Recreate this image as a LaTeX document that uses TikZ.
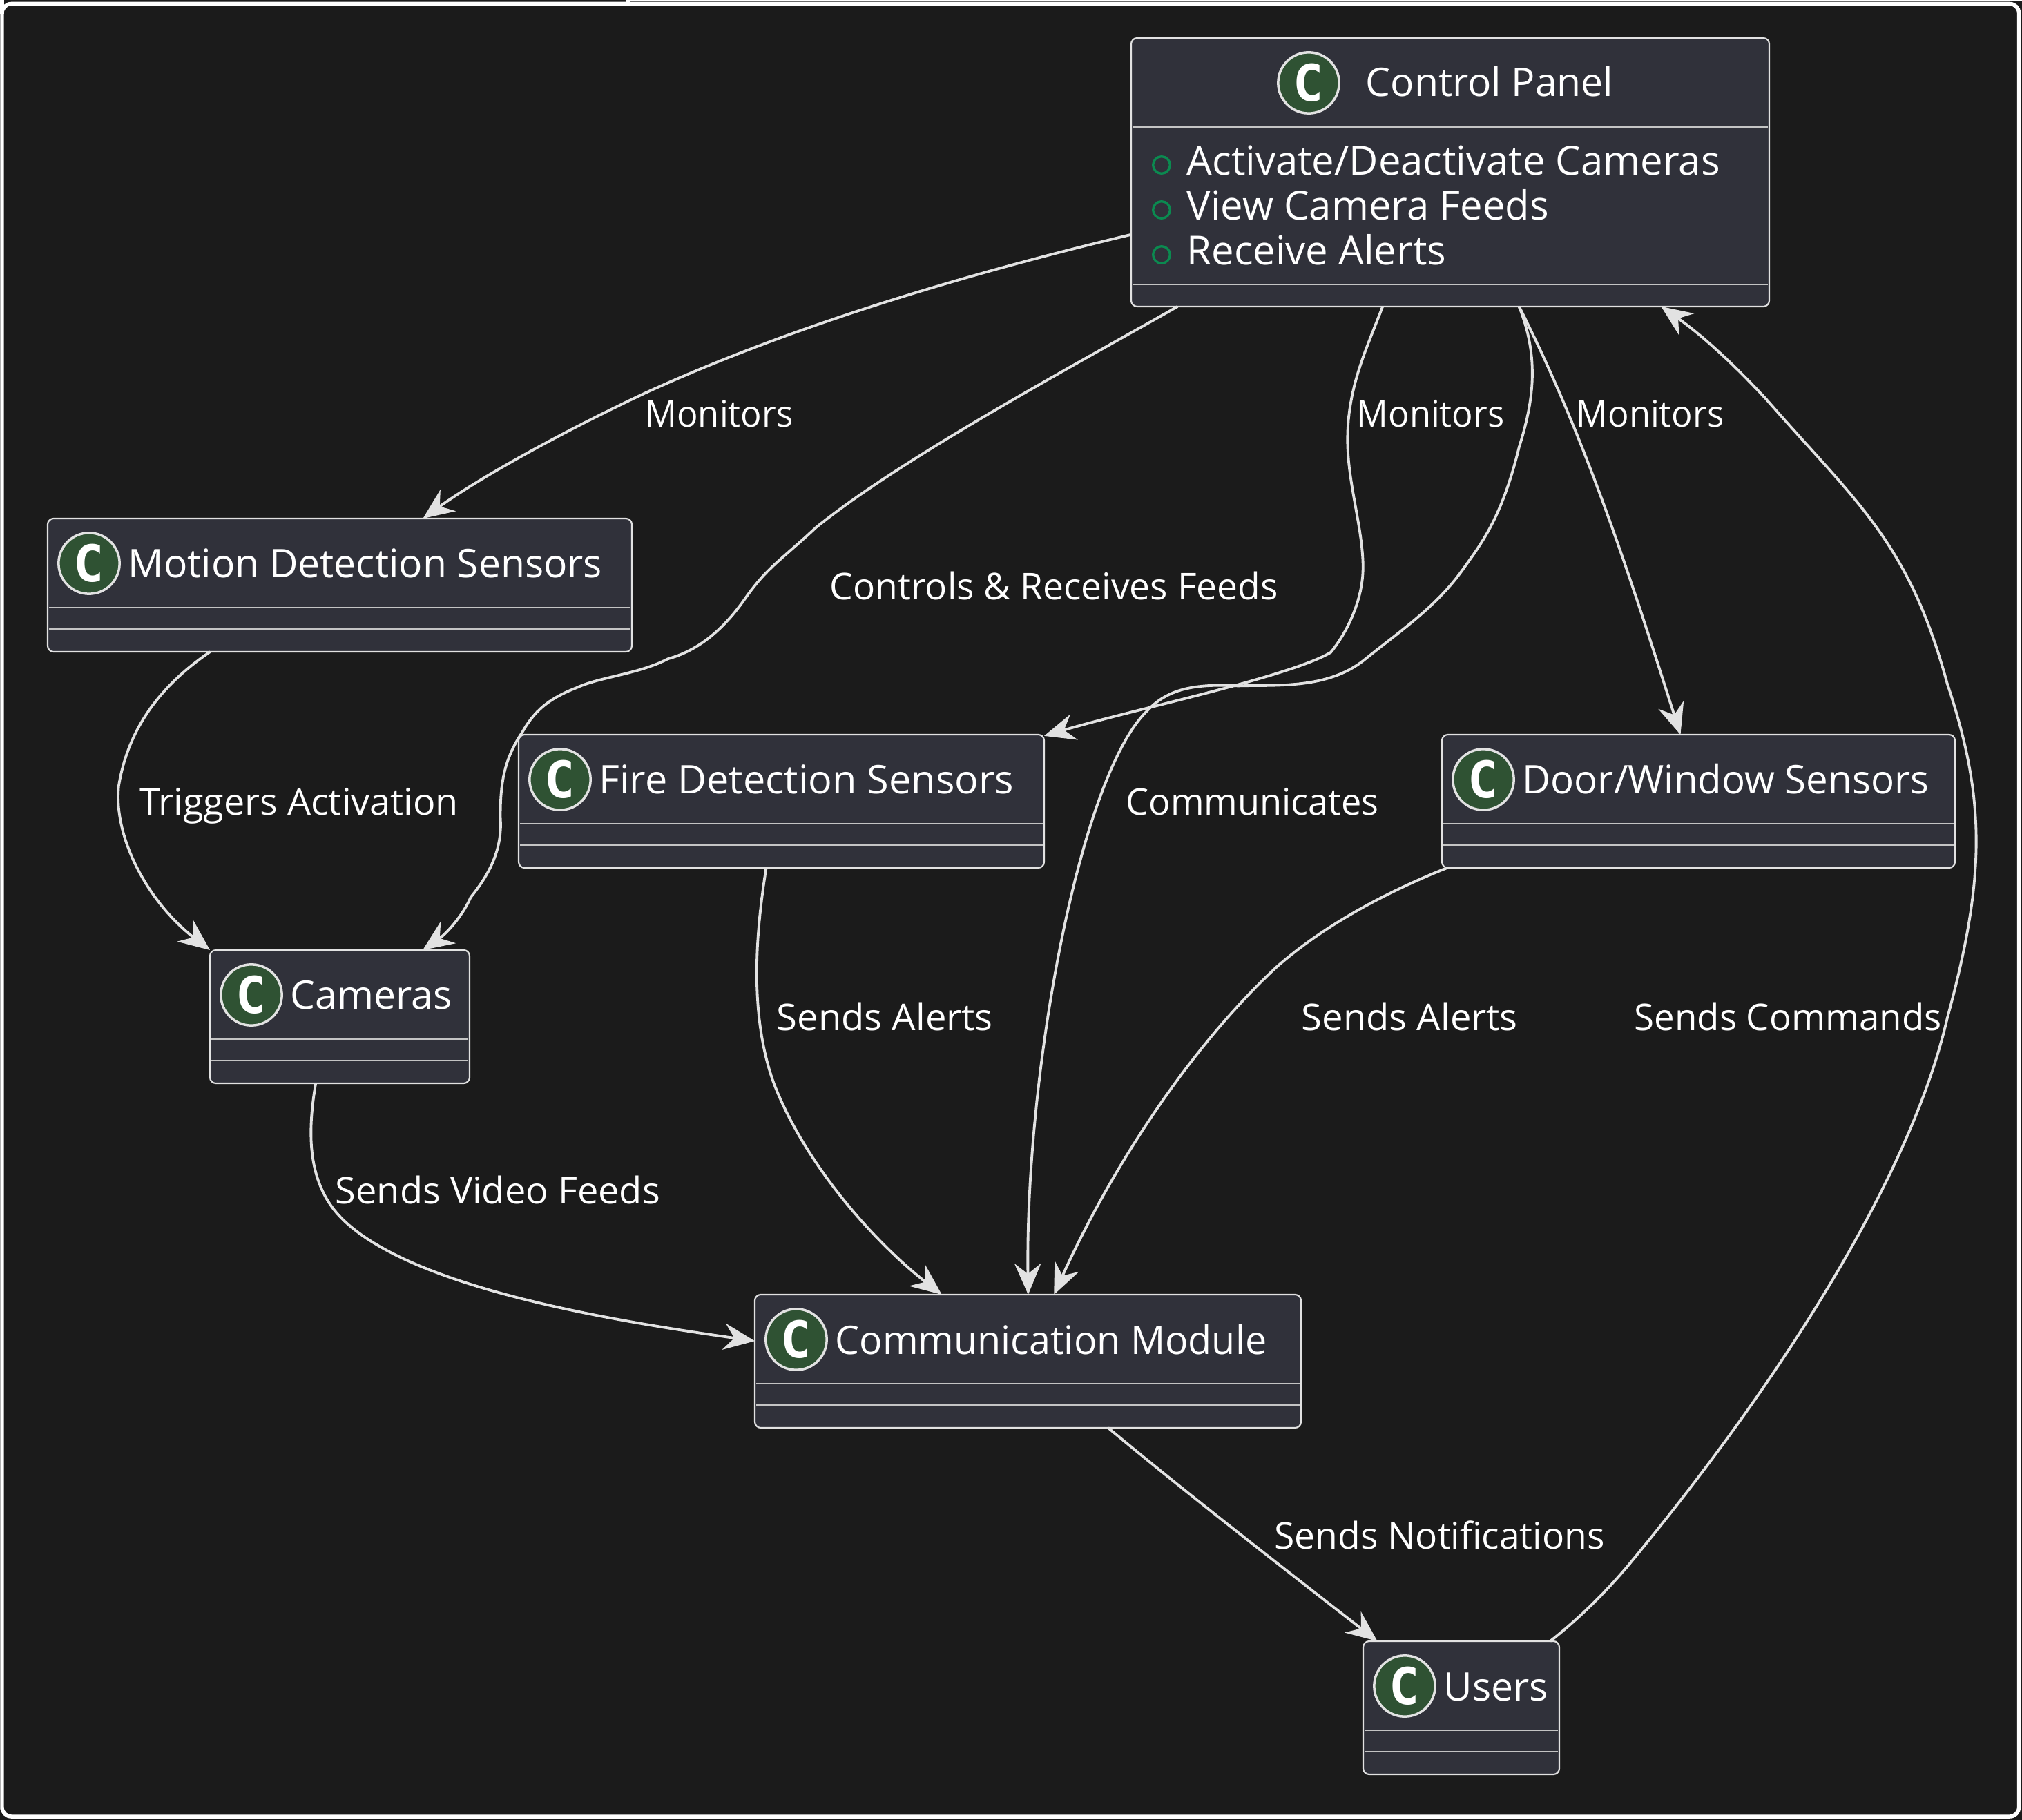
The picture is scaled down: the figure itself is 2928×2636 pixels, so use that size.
\documentclass[tikz,border=0pt]{standalone}
\usepackage{fontspec}
\setmainfont{Open Sans}
\newfontfamily\cfont[Scale=1]{DejaVu Sans Mono Bold}
\usetikzlibrary{calc,arrows.meta}
\definecolor{bgc}{HTML}{1B1B1B}
\definecolor{boxc}{HTML}{30313A}
\definecolor{linec}{HTML}{E2E2E2}
\definecolor{sepc}{HTML}{C4C4C4}
\definecolor{spotc}{HTML}{2F5233}
\definecolor{memc}{HTML}{0B8A50}
\tikzset{
  px/.style={x=0.3pt,y=-0.3pt},
  classbox/.style={draw=linec,line width=0.65pt,fill=boxc,rounded corners=2.6pt,inner sep=0pt,outer sep=0pt,anchor=north west,minimum height=57.9pt},
  spot/.style={circle,draw=linec,line width=1.05pt,fill=spotc,minimum size=26.5pt,inner sep=0pt},
  spotletter/.style={text=white,font=\cfont\fontsize{22}{22}\selectfont,inner sep=0pt},
  title/.style={text=white,font=\fontsize{17.1}{20}\selectfont,anchor=base west,inner sep=0pt},
  member/.style={text=white,font=\fontsize{17.4}{20}\selectfont,anchor=base west,inner sep=0pt},
  memdot/.style={circle,draw=memc,line width=1pt,minimum size=7.4pt,inner sep=0pt},
  seprule/.style={draw=sepc,line width=0.65pt},
  edge/.style={draw=linec,line width=1.15pt,x=0.5602pt,y=-0.5602pt,-{Stealth[length=13.5pt,width=11.5pt,inset=4.5pt]}},
  elabel/.style={text=white,font=\fontsize{16}{18}\selectfont,anchor=base west,inner sep=0pt},
}
% \classnode{name}{left}{top}{right}{title}{text xscale}
\newcommand{\classnode}[6]{%
  \pgfmathsetlengthmacro{\bw}{(#4-#2)*0.3pt}%
  \node[classbox,minimum width=\bw] (#1) at (#2,#3) {};
  \draw[seprule] ($(#1.north west)+(2,129)$) -- ($(#1.north east)+(-2,129)$);
  \draw[seprule] ($(#1.north west)+(2,160)$) -- ($(#1.north east)+(-2,160)$);
  \node[spot] (#1-spot) at ($(#1.north west)+(60,65)$) {};
  \node[spotletter] (#1-c) at (#1-spot.center) {C};
  \node[title,xscale=#6] (#1-title) at ($(#1.north west)+(116,86)$) {#5};
}
\begin{document}
\begin{tikzpicture}[px]
\useasboundingbox (0,0) rectangle (2928,2636);
\fill[bgc] (0,0) rectangle (2928,2636);
\draw[white,line width=1.65pt,rounded corners=4pt] (3,5.5) rectangle (2923.5,2631);
\fill[white] (0,0) rectangle (6,20);
\fill[white] (907,0) rectangle (913,4);
\fill[white] (913,0) rectangle (2928,1);

\classnode{motion}{69}{751}{915}{Motion Detection Sensors}{1}
\classnode{fire}{751}{1064}{1512}{Fire Detection Sensors}{1.01}
\classnode{door}{2088}{1064}{2831}{Door/Window Sensors}{.99}
\classnode{cam}{304}{1376}{680}{Cameras}{1}
\classnode{comm}{1093}{1875}{1884}{Communication Module}{.975}
\classnode{users}{1974}{2377}{2258}{Users}{1}

\pgfmathsetlengthmacro{\bw}{924*0.3pt}
\node[classbox,minimum width=\bw,minimum height=116.7pt] (cp) at (1638,55) {};
\draw[seprule] ($(cp.north west)+(2,129)$) -- ($(cp.north east)+(-2,129)$);
\draw[seprule] ($(cp.north west)+(2,357)$) -- ($(cp.north east)+(-2,357)$);
\node[spot] (cp-spot) at (1895,120) {};
\node[spotletter] (cp-c) at (cp-spot.center) {C};
\node[title] (cp-title) at (1977,140) {Control Panel};
\node[memdot] (m1) at (1682,239) {};
\node[memdot] (m2) at (1682,304) {};
\node[memdot] (m3) at (1682,369) {};
\node[member] (m1t) at (1718,254) {Activate/Deactivate Cameras};
\node[member] (m2t) at (1718,319) {View Camera Feeds};
\node[member] (m3t) at (1718,384) {Receive Alerts};

\draw[edge] ($(cp.north west)+(0,152.5)$) .. controls (760,210) and (620,250) .. (500,305) .. controls (430,338) and (370,372) .. ($(motion.north west)+(291,0)$);
\draw[edge] ($(cp.south west)+(36,0)$) .. controls (830,285) and (700,355) .. (633,409) .. controls (605,435) and (595,440) .. (578,464) .. controls (560,490) and (540,505) .. (518,511) .. controls (495,523) and (465,525) .. (447,533.5) .. controls (425,542) and (414,552) .. (405,568) .. controls (390,590) and (388,610) .. (388,634) .. controls (390,660) and (378,680) .. (365,696) .. controls (358,712) and (345,725) .. ($(cam.north west)+(165,0)$);
\draw[edge] ($(cp.south west)+(195,0)$) .. controls (1060,270) and (1045,300) .. (1045,341) .. controls (1045,375) and (1057,410) .. (1057,440) .. controls (1057,465) and (1045,490) .. (1032,506) .. controls (1000,525) and (880,550) .. ($(fire.north east)+(0,1)$);
\draw[edge] ($(cp.south west)+(300.8,0)$) .. controls (1195,280) and (1188,315) .. (1178,347) .. controls (1165,400) and (1150,420) .. (1135.6,440) .. controls (1115,470) and (1085,490) .. (1059,511) .. controls (1030,535) and (990,531) .. (960,532) .. controls (925,530) and (905,535) .. (890,551) .. controls (838,600) and (795,830) .. ($(comm.north west)+(212,0)$);
\draw[edge] ($(cp.south west)+(300.8,0)$) .. controls (1230,340) and (1265,450) .. ($(door.north west)+(185,0)$);
\draw[edge] ($(motion.south west)+(126,0)$) .. controls (130,528) and (100,560) .. (92,610) .. controls (88,650) and (115,700) .. (cam.north west);
\draw[edge] ($(fire.south west)+(192,0)$) .. controls (585,730) and (582,790) .. (600,840) .. controls (625,905) and (680,965) .. ($(comm.north west)+(145,0)$);
\draw[edge] ($(door.south west)+(4,0)$) .. controls (1080,690) and (1030,715) .. (990,750) .. controls (920,815) and (860,910) .. ($(comm.north west)+(232,0)$);
\draw[edge] ($(cam.south west)+(82,0)$) .. controls (240,870) and (235,915) .. (265,945) .. controls (320,1000) and (480,1025) .. ($(comm.north west)+(0,36)$);
\draw[edge] ($(comm.south west)+(274,0)$) .. controls (920,1158) and (1000,1220) .. ($(users.north west)+(11,0)$);
\draw[edge] ($(users.north west)+(145,0)$) .. controls (1225,1255) and (1245,1235) .. (1262,1215) .. controls (1370,1085) and (1480,920) .. (1510,790) .. controls (1540,680) and (1540,620) .. (1510,530) .. controls (1480,420) and (1440,390) .. (1370,310) .. controls (1345,283) and (1320,260) .. ($(cp.south west)+(411,0)$);

\node[elabel,xscale=.95] (l1) at (934,619) {Monitors};
\node[elabel,xscale=.95] (l2) at (1964,619) {Monitors};
\node[elabel,xscale=.95] (l3) at (2282,619) {Monitors};
\node[elabel] (l4) at (1201,869) {Controls \& Receives Feeds};
\node[elabel,xscale=1.01] (l5) at (202,1181) {Triggers Activation};
\node[elabel,xscale=.98] (l6) at (1630,1181) {Communicates};
\node[elabel,xscale=1.02] (l7) at (1124,1492) {Sends Alerts};
\node[elabel,xscale=1.02] (l8) at (1884,1492) {Sends Alerts};
\node[elabel,xscale=.99] (l9) at (2366,1492) {Sends Commands};
\node[elabel,xscale=1.015] (l10) at (485,1743) {Sends Video Feeds};
\node[elabel] (l11) at (1845,2243) {Sends Notifications};
\end{tikzpicture}
\end{document}
